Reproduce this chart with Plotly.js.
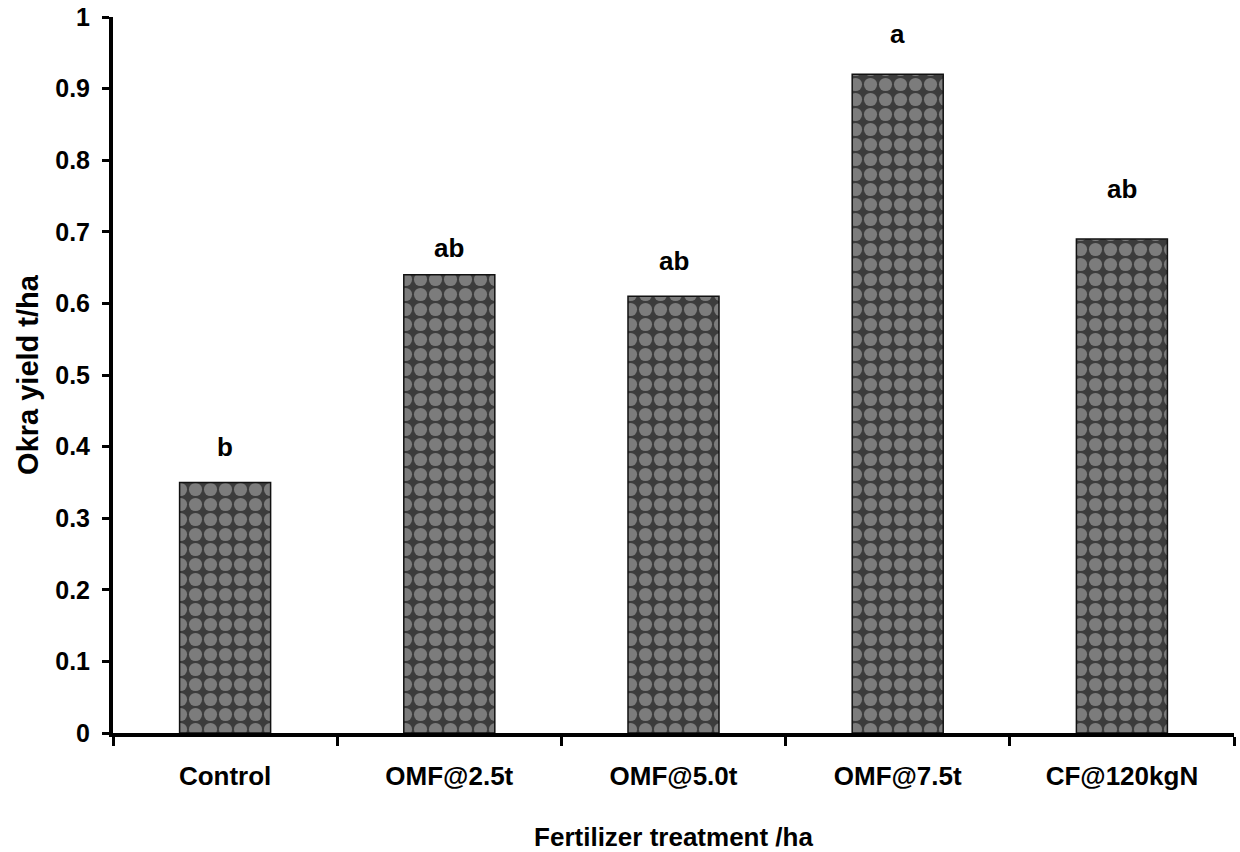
<!DOCTYPE html>
<html>
<head>
<meta charset="utf-8">
<script src="https://cdn.plot.ly/plotly-3.0.1.min.js"></script>
<style>html,body{margin:0;padding:0;background:#fff;}#chart{width:1240px;height:852px;}</style>
</head>
<body>
<div id="chart"></div>
<script>
const categories = ["Control", "OMF@2.5t", "OMF@5.0t", "OMF@7.5t", "CF@120kgN"];
const yieldValues = [0.35, 0.64, 0.61, 0.92, 0.69];
const letters = ["b", "ab", "ab", "a", "ab"];
const letterHeights = [0.40, 0.677, 0.659, 0.976, 0.76];
const yTickValues = [0, 0.1, 0.2, 0.3, 0.4, 0.5, 0.6, 0.7, 0.8, 0.9, 1];
const yTickLabels = ["0", "0.1", "0.2", "0.3", "0.4", "0.5", "0.6", "0.7", "0.8", "0.9", "1"];

const sans = "Liberation Sans, Arial, sans-serif";

const trace = {
  type: "bar",
  x: categories,
  y: yieldValues,
  marker: {
    color: "#7c7c7c",
    line: {color: "#111", width: 1.5},
    pattern: {shape: ".", bgcolor: "#3c3c3c", fgcolor: "#7c7c7c", size: 15, solidity: 0.6, fillmode: "replace"}
  },
  hoverinfo: "x+y"
};

const annotations = categories.map((c, i) => ({
  x: c, y: letterHeights[i], xref: "x", yref: "y",
  text: "<b>" + letters[i] + "</b>", showarrow: false,
  yanchor: "middle", xanchor: "center",
  font: {family: sans, size: 26, color: "#000"}
}));

const layout = {
  width: 1240, height: 852,
  margin: {l: 113, r: 6, t: 17, b: 119},
  paper_bgcolor: "#fff", plot_bgcolor: "#fff",
  showlegend: false,
  bargap: 0.594,
  xaxis: {
    type: "category",
    showline: true, linecolor: "#000", linewidth: 4,
    ticks: "outside", tickson: "boundaries", ticklen: 9, tickwidth: 3, tickcolor: "#000",
    ticklabelstandoff: 17,
    showgrid: false, zeroline: false,
    tickfont: {family: sans, size: 26, color: "#000", weight: "bold"},
    title: {text: "<b>Fertilizer treatment /ha</b>", font: {family: sans, size: 26, color: "#000"}, standoff: 39}
  },
  yaxis: {
    range: [0, 1],
    tickvals: yTickValues, ticktext: yTickLabels,
    showline: true, linecolor: "#000", linewidth: 4,
    ticks: "outside", ticklen: 7, tickwidth: 3, tickcolor: "#000",
    ticklabelstandoff: 7,
    showgrid: false, zeroline: false,
    tickfont: {family: sans, size: 25, color: "#000", weight: "bold"},
    title: {text: "<b>Okra yield t/ha</b>", font: {family: sans, size: 29, color: "#000"}, standoff: 9}
  },
  annotations: annotations
};

Plotly.newPlot("chart", [trace], layout, {displayModeBar: false, staticPlot: true});
</script>
</body>
</html>
